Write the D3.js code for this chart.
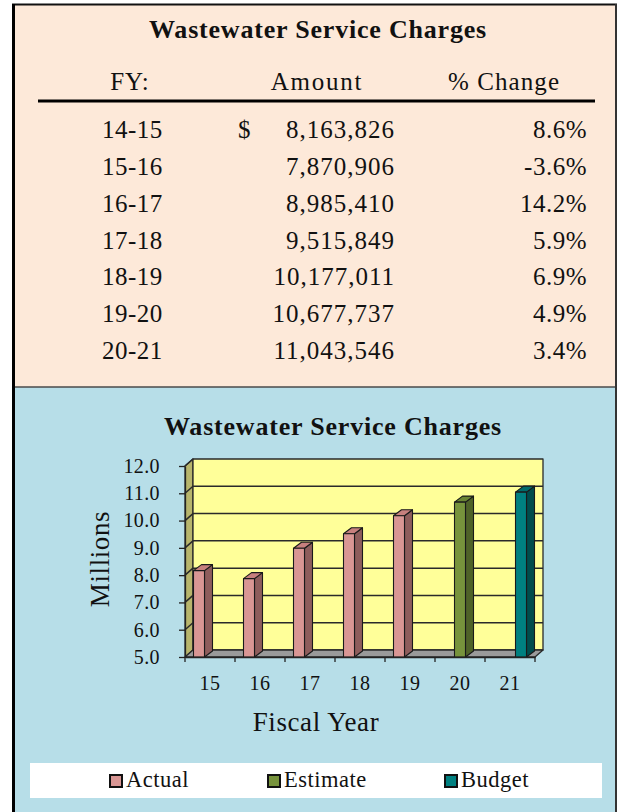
<!DOCTYPE html>
<html>
<head>
<meta charset="utf-8">
<script src="https://cdn.jsdelivr.net/npm/d3@7"></script>
<style>
  html, body { margin: 0; padding: 0; background: #ffffff; }
  svg { display: block; }
  text { font-family: "Liberation Serif", serif; fill: #111; }
</style>
</head>
<body>
<svg id="chart" width="618" height="812"></svg>
<script>
// ---- data ----
const fiscalYears = ["14-15", "15-16", "16-17", "17-18", "18-19", "19-20", "20-21"];
const amounts = [8163826, 7870906, 8985410, 9515849, 10177011, 10677737, 11043546];
const pctChange = [8.6, -3.6, 14.2, 5.9, 6.9, 4.9, 3.4];
const yearLabels = ["15", "16", "17", "18", "19", "20", "21"];
const seriesNames = ["Actual", "Estimate", "Budget"];
const seriesOfYear = ["Actual", "Actual", "Actual", "Actual", "Actual", "Estimate", "Budget"];
const yTicks = [5, 6, 7, 8, 9, 10, 11, 12];

// face colours per series: front, side, top
const palette = {
  Actual:   { front: "#d99694", side: "#8e5d5c", top: "#c7807e" },
  Estimate: { front: "#77933c", side: "#4f6228", top: "#6a8434" },
  Budget:   { front: "#008080", side: "#004c4c", top: "#006b6b" }
};

const svg = d3.select("#chart");

// ---- panels ----
svg.append("rect").attr("x", 13).attr("y", 5).attr("width", 603).attr("height", 382).attr("fill", "#fde9d9");
svg.append("rect").attr("x", 13).attr("y", 387).attr("width", 603).attr("height", 430).attr("fill", "#b7dee8");
svg.append("line").attr("x1", 13).attr("x2", 616).attr("y1", 387).attr("y2", 387).attr("stroke", "#4a4a4a").attr("stroke-width", 1.5);
svg.append("line").attr("x1", 12).attr("x2", 617).attr("y1", 4.5).attr("y2", 4.5).attr("stroke", "#111").attr("stroke-width", 2);
svg.append("line").attr("x1", 13.5).attr("x2", 13.5).attr("y1", 4).attr("y2", 812).attr("stroke", "#000").attr("stroke-width", 3);
svg.append("line").attr("x1", 616).attr("x2", 616).attr("y1", 4).attr("y2", 812).attr("stroke", "#333").attr("stroke-width", 2);

// ---- table ----
svg.append("text").attr("x", 318).attr("y", 38).attr("text-anchor", "middle")
  .attr("font-size", 26).attr("font-weight", "bold").attr("letter-spacing", 0.8).text("Wastewater Service Charges");

const head = svg.append("g").attr("font-size", 25);
head.append("text").attr("x", 130).attr("y", 90).attr("text-anchor", "middle").attr("letter-spacing", 1).text("FY:");
head.append("text").attr("x", 317).attr("y", 90).attr("text-anchor", "middle").attr("letter-spacing", 1.8).text("Amount");
head.append("text").attr("x", 504).attr("y", 90).attr("text-anchor", "middle").attr("letter-spacing", 1.1).text("% Change");
svg.append("line").attr("x1", 38).attr("x2", 595).attr("y1", 101).attr("y2", 101)
  .attr("stroke", "#000").attr("stroke-width", 3);

const rowY = d3.scalePoint().domain(fiscalYears).range([138, 359]);
const fmtAmt = d3.format(",");
const rows = svg.append("g").attr("font-size", 25).selectAll("g").data(fiscalYears).join("g")
  .attr("transform", d => `translate(0,${rowY(d)})`);
rows.append("text").attr("x", 102).attr("letter-spacing", 0.5).text(d => d);
rows.append("text").attr("x", 395).attr("text-anchor", "end").attr("letter-spacing", 1).text((d, i) => fmtAmt(amounts[i]));
rows.append("text").attr("x", 587).attr("text-anchor", "end").attr("letter-spacing", 0.5).text((d, i) => pctChange[i].toFixed(1) + "%");
rows.filter((d, i) => i === 0).append("text").attr("x", 238).text("$");

// ---- chart ----
svg.append("text").attr("x", 333).attr("y", 435).attr("text-anchor", "middle")
  .attr("font-size", 26).attr("font-weight", "bold").attr("letter-spacing", 0.8).text("Wastewater Service Charges");

const x = d3.scaleBand().domain(yearLabels).range([185, 535]);
const slot = d3.scaleBand().domain(seriesNames).range([8.5, 41.5]);
const y = d3.scaleLinear().domain([5, 12]).range([657, 466]);
const DX = 8, DY = -7;      // wall depth
const BDX = 8, BDY = -6;    // bar depth
const x0 = x.range()[0], x1 = x.range()[1];
const yBase = y(5), yTop = y(12);
const line = d3.line();

const walls = svg.append("g").attr("stroke", "#2a2a2a").attr("stroke-width", 1.3).attr("stroke-linejoin", "round");
// left side wall
walls.append("path").attr("fill", "#b8b56c")
  .attr("d", line([[x0, yBase], [x0, yTop], [x0 + DX, yTop + DY], [x0 + DX, yBase + DY]]) + "Z");
// back wall
walls.append("path").attr("fill", "#ffff99")
  .attr("d", line([[x0 + DX, yBase + DY], [x0 + DX, yTop + DY], [x1 + DX, yTop + DY], [x1 + DX, yBase + DY]]) + "Z");
// floor
walls.append("path").attr("fill", "#9a9a9a")
  .attr("d", line([[x0, yBase], [x0 + DX, yBase + DY], [x1 + DX, yBase + DY], [x1, yBase]]) + "Z");

// gridlines on the walls
const grid = svg.append("g").attr("stroke", "#2a2a2a").attr("stroke-width", 1.5);
grid.selectAll("line.back").data(yTicks.slice(1, -1)).join("line").attr("class", "back")
  .attr("x1", x0 + DX).attr("x2", x1 + DX).attr("y1", d => y(d) + DY).attr("y2", d => y(d) + DY);
grid.selectAll("line.side").data(yTicks.slice(1)).join("line").attr("class", "side")
  .attr("x1", x0).attr("x2", x0 + DX).attr("y1", d => y(d)).attr("y2", d => y(d) + DY);

// bars
const bars = amounts.map((a, i) => ({ cat: yearLabels[i], series: seriesOfYear[i], value: a / 1e6 }));
const bw = slot.bandwidth();
const barG = svg.append("g").attr("stroke", "#1a1a1a").attr("stroke-width", 1.1).attr("stroke-linejoin", "round")
  .selectAll("g").data(bars).join("g");
barG.append("path").attr("fill", d => palette[d.series].side).attr("d", d => {
  const l = x(d.cat) + slot(d.series) + bw, t = y(d.value);
  return line([[l, t], [l + BDX, t + BDY], [l + BDX, yBase + BDY], [l, yBase]]) + "Z";
});
barG.append("path").attr("fill", d => palette[d.series].top).attr("d", d => {
  const l = x(d.cat) + slot(d.series), t = y(d.value);
  return line([[l, t], [l + BDX, t + BDY], [l + bw + BDX, t + BDY], [l + bw, t]]) + "Z";
});
barG.append("rect").attr("fill", d => palette[d.series].front)
  .attr("x", d => x(d.cat) + slot(d.series)).attr("width", bw)
  .attr("y", d => y(d.value)).attr("height", d => yBase - y(d.value));

// y axis
const yAxis = svg.append("g").attr("transform", `translate(${x0},0)`)
  .call(d3.axisLeft(y).tickValues(yTicks).tickSize(6).tickSizeOuter(0).tickPadding(19).tickFormat(d3.format(".1f")));
yAxis.selectAll("text").attr("font-size", 20).attr("font-family", "Liberation Serif").attr("fill", "#111").attr("letter-spacing", 0.4);
yAxis.selectAll("line, path").attr("stroke", "#222").attr("stroke-width", 1.3);

// x axis: category labels, ticks at band edges
const xAxis = svg.append("g").attr("transform", `translate(0,${yBase})`)
  .call(d3.axisBottom(x).tickSize(0).tickPadding(19));
xAxis.select(".domain").attr("stroke", "#222").attr("stroke-width", 1.3);
xAxis.selectAll("text").attr("font-size", 20).attr("font-family", "Liberation Serif").attr("fill", "#111").attr("letter-spacing", 0.4);
const edges = yearLabels.map(c => x(c)).concat([x1]);
svg.append("g").selectAll("line").data(edges).join("line")
  .attr("x1", d => d).attr("x2", d => d).attr("y1", yBase).attr("y2", yBase + 5)
  .attr("stroke", "#222").attr("stroke-width", 1.3);

// axis titles
svg.append("text").attr("transform", "translate(109,559) rotate(-90)").attr("text-anchor", "middle")
  .attr("font-size", 27).attr("letter-spacing", 0.6).text("Millions");
svg.append("text").attr("x", 316).attr("y", 731).attr("text-anchor", "middle")
  .attr("font-size", 27).attr("letter-spacing", 0.6).text("Fiscal Year");

// legend
svg.append("rect").attr("x", 30).attr("y", 763).attr("width", 572).attr("height", 35).attr("fill", "#ffffff");
const legendX = d3.scaleOrdinal().domain(seriesNames).range([110, 268, 445]);
const leg = svg.append("g").selectAll("g").data(seriesNames).join("g")
  .attr("transform", d => `translate(${legendX(d)},775)`);
leg.append("rect").attr("width", 12).attr("height", 12).attr("fill", d => palette[d].front)
  .attr("stroke", "#111").attr("stroke-width", 2);
leg.append("text").attr("x", 16).attr("y", 12).attr("font-size", 22.5).attr("letter-spacing", 0.5).text(d => d);
</script>
</body>
</html>
